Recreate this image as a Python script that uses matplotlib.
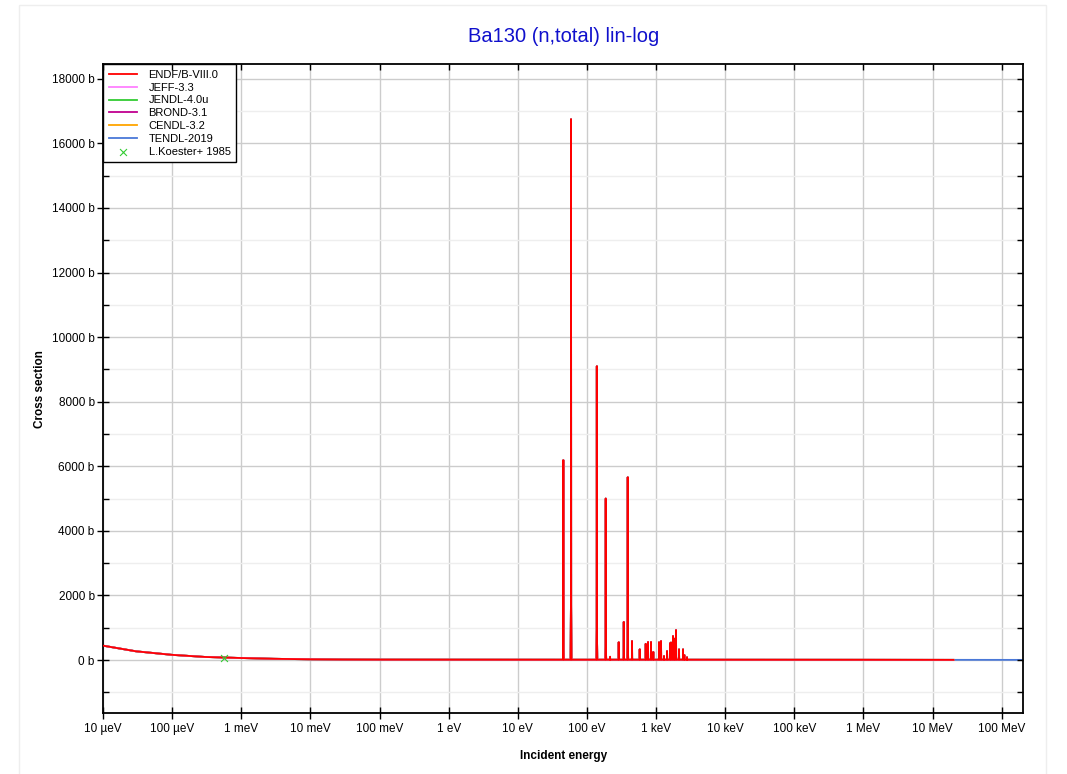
import matplotlib.pyplot as plt
from matplotlib.ticker import FixedLocator, MultipleLocator, FuncFormatter
from matplotlib.patches import Rectangle

plt.rcParams['font.family'] = ['Liberation Sans', 'DejaVu Sans']

# smooth background of the total cross section (eV, barn)
bg_energy = [1e-5, 3e-5, 1e-4, 3e-4, 1e-3, 3e-3, 1e-2, 3e-2, 0.1, 1.0, 10.0,
             1e3, 1e4, 1e5, 1e6, 1e7, 2e7]
bg_xs = [445, 270, 160, 95, 62, 38, 22, 15, 12, 10, 9.5,
         9, 9, 8, 7, 5.5, 5]

# TENDL continues above 20 MeV
tendl_tail_energy = [2e7, 5e7, 1e8, 2e8]
tendl_tail_xs = [5, 5, 4.5, 4.5]

# resolved resonances (eV, peak barn)
res_energy = [45.6, 58.9, 139, 187, 216, 288, 341, 389, 449, 580, 708, 765,
              845, 912, 1104, 1180, 1303, 1442, 1592, 1644, 1758, 1862,
              1944, 2148, 2455, 2565, 2805]
res_peak = [6190, 16750, 9100, 5000, 100, 550, 1180, 5660, 590, 330, 500, 560,
            560, 250, 550, 590, 125, 280, 520, 540, 745, 660,
            930, 330, 330, 155, 85]

# L.Koester+ 1985 measurement
exp_energy = [5.6e-4]
exp_xs = [50]

libraries = ['ENDF/B-VIII.0', 'JEFF-3.3', 'JENDL-4.0u', 'BROND-3.1',
             'CENDL-3.2', 'TENDL-2019']
colors = ['#ff0000', '#ff80ff', '#33cc33', '#c0008f', '#ffa500', '#4a78d8']


def background(e):
    # value from the background table (next point up)
    for i in range(len(bg_energy) - 1):
        if bg_energy[i] <= e < bg_energy[i + 1]:
            return bg_xs[i + 1]
    return bg_xs[-1]


# build curve: background points plus narrow spikes at each resonance
pts = list(zip(bg_energy, bg_xs))
for e, p in zip(res_energy, res_peak):
    b = background(e)
    pts += [(e * 0.985, b), (e * 0.996, p * 0.1), (e, p), (e * 1.004, p * 0.1), (e * 1.015, b)]
pts.sort()
curve_e = [p[0] for p in pts]
curve_xs = [p[1] for p in pts]

xlim = (1e-5, 2.05e8)
ylim = (-1650, 18450)
energy_ticks = [1e-5, 1e-4, 1e-3, 1e-2, 1e-1, 1, 10, 100, 1e3, 1e4, 1e5, 1e6, 1e7, 1e8]
energy_labels = ['10 µeV', '100 µeV', '1 meV', '10 meV', '100 meV', '1 eV',
                 '10 eV', '100 eV', '1 keV', '10 keV', '100 keV', '1 MeV',
                 '10 MeV', '100 MeV']

fig = plt.figure(figsize=(10.67, 7.74), dpi=100)
fig.patches.append(Rectangle((19 / 1067, -0.1), 1027 / 1067, 1.1 - 5 / 774,
                             transform=fig.transFigure, fill=False,
                             edgecolor='#eeeeee', linewidth=1))
pos = [103 / 1067, 1 - 713.3 / 774, 920.3 / 1067, 649 / 774]
ax = fig.add_axes(pos)

# draw the other libraries underneath ENDF
for lib, c in reversed(list(zip(libraries, colors))):
    if lib == 'ENDF/B-VIII.0':
        continue
    e = curve_e + (tendl_tail_energy[1:] if lib == 'TENDL-2019' else [])
    s = curve_xs + (tendl_tail_xs[1:] if lib == 'TENDL-2019' else [])
    ax.plot(e, s, color=c, lw=1.3, label=lib, zorder=2)
ax.plot(curve_e, curve_xs, color=colors[0], lw=1.3, label=libraries[0], zorder=3)
ax.scatter(exp_energy, exp_xs, marker='x', color='#33cc33', s=25, lw=0.8,
           label='L.Koester+ 1985', zorder=4)

ax.set_xscale('log')
ax.set_xlim(*xlim)
ax.set_ylim(*ylim)

ax.xaxis.set_major_locator(FixedLocator(energy_ticks))
ax.xaxis.set_minor_locator(FixedLocator([]))
ax.set_xticklabels(energy_labels)
ax.yaxis.set_major_locator(MultipleLocator(2000))
ax.yaxis.set_minor_locator(MultipleLocator(1000))
ax.yaxis.set_major_formatter(FuncFormatter(lambda v, p: '%d b' % v))

ax.grid(which='major', color='#cccccc', lw=1)
ax.grid(which='minor', axis='y', color='#eeeeee', lw=1)
ax.set_axisbelow(True)

ax.tick_params(which='major', direction='inout', length=8, width=1,
               labelsize=8.5, colors='black', pad=3)
ax.tick_params(axis='y', which='major', pad=2)
ax.tick_params(which='minor', direction='in', length=4, width=1)
for sp in ax.spines.values():
    sp.set_linewidth(1.3)

# overlay axes carrying the inward ticks on the top and right sides
ov = fig.add_axes(pos, frameon=False, zorder=5)
ov.set_xscale('log')
ov.set_xlim(*xlim)
ov.set_ylim(*ylim)
ov.patch.set_visible(False)
ov.xaxis.set_major_locator(FixedLocator(energy_ticks))
ov.xaxis.set_minor_locator(FixedLocator([]))
ov.yaxis.set_major_locator(MultipleLocator(2000))
ov.yaxis.set_minor_locator(MultipleLocator(1000))
ov.tick_params(which='both', direction='in', length=4, width=1, color='black',
               top=True, right=True, bottom=False, left=False,
               labeltop=False, labelright=False, labelbottom=False, labelleft=False)

ax.set_xlabel('Incident energy', fontsize=8.5, fontweight='bold', labelpad=11)
ax.set_ylabel('Cross section', fontsize=8.5, fontweight='bold', labelpad=4)
ax.set_title('Ba130 (n,total) lin-log', color='#1010cc', fontsize=14.5, pad=16)

handles, labels = ax.get_legend_handles_labels()
order = [labels.index(l) for l in libraries + ['L.Koester+ 1985']]
leg = ax.legend([handles[i] for i in order], [labels[i] for i in order],
                loc='upper left', bbox_to_anchor=(0, 1), borderaxespad=0,
                fontsize=8, fancybox=False, edgecolor='black',
                framealpha=1, handlelength=2.6, handletextpad=1.0,
                labelspacing=0.25, borderpad=0.5)
leg.get_frame().set_linewidth(1)
leg.set_zorder(10)

plt.savefig('out.png', dpi=100)
